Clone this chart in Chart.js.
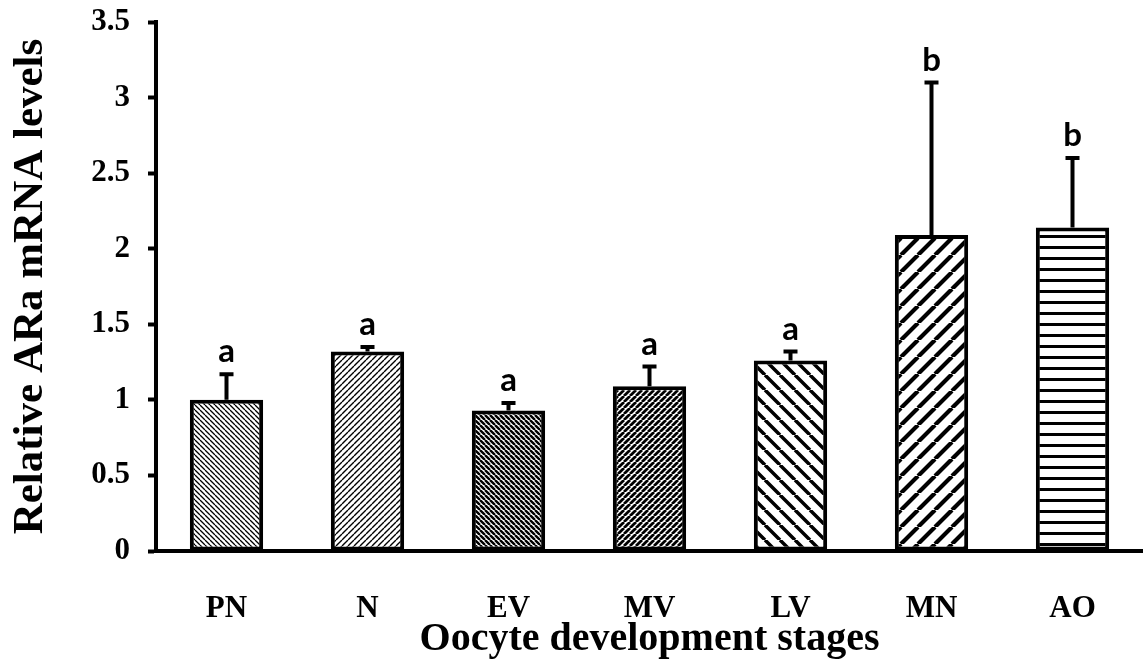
<!DOCTYPE html>
<html>
<head>
<meta charset="utf-8">
<script src="https://cdn.jsdelivr.net/npm/chart.js@4"></script>
<style>
  html, body { margin: 0; padding: 0; background: #fff; }
  #wrap { width: 1143px; height: 669px; }
</style>
</head>
<body>
<div id="wrap"><canvas id="barChart"></canvas></div>
<script>
var stages = ['PN', 'N', 'EV', 'MV', 'LV', 'MN', 'AO']
var means = [1.0, 1.32, 0.93, 1.09, 1.26, 2.09, 2.14]
var errTops = [1.17, 1.35, 0.98, 1.22, 1.32, 3.10, 2.60]
var letters = ['a', 'a', 'a', 'a', 'a', 'b', 'b']

var serif = '"Liberation Serif", "Times New Roman", serif'

// hatch fills, one per bar
function hatch(dir, gap, lw) {
    var c = document.createElement('canvas')
    c.width = gap
    c.height = gap
    var g = c.getContext('2d')
    g.fillStyle = '#fff'
    g.fillRect(0, 0, gap, gap)
    g.strokeStyle = '#000'
    g.lineWidth = lw
    g.beginPath()
    if (dir === 'h') {
        g.moveTo(0, gap / 2)
        g.lineTo(gap, gap / 2)
    } else {
        for (var k = -1; k <= 1; k++) {
            if (dir === '/') {
                g.moveTo(k * gap, gap)
                g.lineTo(k * gap + gap, 0)
            } else {
                g.moveTo(k * gap, 0)
                g.lineTo(k * gap + gap, gap)
            }
        }
    }
    g.stroke()
    return g.createPattern(c, 'repeat')
}

var fills = [
    hatch('\\', 5, 1.3),
    hatch('/', 6, 1.4),
    hatch('\\', 5, 2.4),
    hatch('/', 6, 2.8),
    hatch('\\', 15, 3.5),
    hatch('/', 17, 4.2),
    hatch('h', 11, 3)
]

// error bars + letters
var errorBars = {
    id: 'errorBars',
    afterDatasetsDraw(chart) {
        var ctx = chart.ctx
        var x = chart.scales.x
        var y = chart.scales.y
        ctx.save()
        ctx.strokeStyle = '#000'
        ctx.fillStyle = '#000'
        ctx.lineWidth = 4
        stages.forEach((s, i) => {
            var px = x.getPixelForValue(i)
            var yTop = y.getPixelForValue(errTops[i])
            var yMean = y.getPixelForValue(means[i])
            ctx.beginPath()
            ctx.moveTo(px, yMean)
            ctx.lineTo(px, yTop)
            ctx.moveTo(px - 7, yTop)
            ctx.lineTo(px + 7, yTop)
            ctx.stroke()
            ctx.font = 'bold 33px Lato, "Open Sans", sans-serif'
            ctx.textAlign = 'center'
            ctx.textBaseline = 'bottom'
            ctx.fillText(letters[i], px, yTop - 6)
        })
        ctx.restore()
    }
}

var barChart = new Chart(document.querySelector('#barChart'), {
    type: 'bar',
    data: {
        labels: stages,
        datasets: [{
            data: means,
            backgroundColor: fills,
            borderColor: '#000',
            borderWidth: 4,
            borderSkipped: false,
            barPercentage: 0.52,
            categoryPercentage: 1
        }]
    },
    options: {
        responsive: true,
        maintainAspectRatio: false,
        animation: false,
        layout: { padding: { top: 0, right: 0, left: 0, bottom: 0 } },
        plugins: {
            legend: { display: false },
            tooltip: { enabled: false }
        },
        scales: {
            y: {
                min: 0,
                max: 3.5,
                afterFit: function(scale) {
                    scale.width = 156
                    scale.paddingTop = 22
                },
                ticks: {
                    stepSize: 0.5,
                    padding: 18,
                    color: '#000',
                    font: { family: serif, size: 31, weight: 'bold', lineHeight: 1 },
                    callback: function(v) { return String(v) }
                },
                grid: {
                    drawOnChartArea: false,
                    drawTicks: true,
                    tickLength: 8,
                    tickWidth: 4,
                    tickColor: '#000'
                },
                border: { display: true, color: '#000', width: 4 },
                title: {
                    display: true,
                    text: 'Relative ARa mRNA levels',
                    color: '#000',
                    padding: { top: 5, bottom: 0 },
                    font: { family: serif, size: 43, weight: 'bold' }
                }
            },
            x: {
                afterFit: function(scale) { scale.height = 118 },
                ticks: {
                    padding: 31,
                    color: '#000',
                    font: { family: serif, size: 31, weight: 'bold' }
                },
                grid: { display: false },
                border: { display: true, color: '#000', width: 4 },
                title: {
                    display: true,
                    text: 'Oocyte development stages',
                    color: '#000',
                    padding: { top: 0, bottom: 5 },
                    font: { family: serif, size: 40, weight: 'bold' }
                }
            }
        }
    },
    plugins: [errorBars]
})
</script>
</body>
</html>
